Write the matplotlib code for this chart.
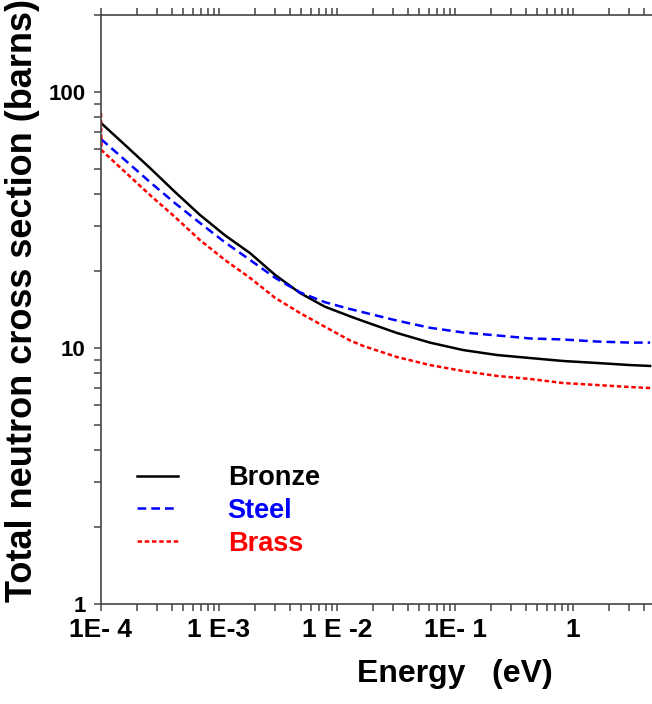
import matplotlib
matplotlib.use("Agg")
import matplotlib.pyplot as plt
from matplotlib.ticker import FixedLocator, FixedFormatter, LogLocator, NullFormatter

plt.rcParams["font.family"] = ["Liberation Sans", "DejaVu Sans"]

# values (energy in eV, cross section in barns)
ENERGY = [1e-4, 1.60e-4, 2.60e-4, 4.24e-4, 6.90e-4, 1.12e-3, 1.83e-3, 2.99e-3,
          4.86e-3, 7.91e-3, 1.29e-2, 1.66e-2, 3.22e-2, 6.13e-2, 0.117, 0.227,
          0.432, 0.822, 1.60, 3.04, 4.50]
S_BRONZE = [75.7, 62.1, 50.5, 40.7, 33.1, 27.6, 23.5, 19.3, 16.4, 14.5, 13.3,
            12.75, 11.45, 10.5, 9.82, 9.39, 9.14, 8.90, 8.74, 8.58, 8.51]
S_STEEL = [65.5, 54.2, 44.5, 36.8, 30.8, 25.9, 22.1, 18.8, 16.5, 15.1, 14.2,
           13.8, 12.8, 12.0, 11.5, 11.2, 10.9, 10.8, 10.6, 10.5, 10.5]
S_BRASS = [59.3, 48.7, 39.6, 32.5, 26.4, 22.1, 18.8, 15.7, 13.7, 12.1, 10.7,
           10.2, 9.22, 8.58, 8.13, 7.78, 7.57, 7.30, 7.17, 7.04, 6.98]
# brass trace starts with a short vertical jump at the left edge
E_BRASS_START = [1e-4, 1.01e-4]
S_BRASS_START = [82.8, 59.3]

XTICKS = [1e-4, 1e-3, 1e-2, 1e-1, 1.0]
XTICKLABELS = ["1E- 4", "1 E-3", "1 E -2", "1E- 1", "1"]
YTICKS = [1, 10, 100]
YTICKLABELS = ["1", "10", "100"]

fig = plt.figure(figsize=(6.52, 7.04), dpi=100)
ax = fig.add_axes([101 / 652, 1 - 604 / 704, 1 - 101 / 652, (604 - 15) / 704])

ax.plot(ENERGY, S_BRONZE, color="black", lw=1.8, label="Bronze")
ax.plot(ENERGY, S_STEEL, color="#0000FF", lw=1.8, dashes=(3.5, 2.0), label="Steel")
ax.plot(E_BRASS_START + ENERGY[1:], S_BRASS_START + S_BRASS[1:], color="#FF0000",
        lw=1.8, dashes=(1.8, 1.1), label="Brass")

ax.set_xscale("log")
ax.set_yscale("log")
ax.set_xlim(1e-4, 4.67)
ax.set_ylim(1, 200)

ax.xaxis.set_major_locator(FixedLocator(XTICKS))
ax.xaxis.set_major_formatter(FixedFormatter(XTICKLABELS))
ax.xaxis.set_minor_locator(LogLocator(base=10, subs=range(2, 10), numticks=50))
ax.xaxis.set_minor_formatter(NullFormatter())
ax.yaxis.set_major_locator(FixedLocator(YTICKS))
ax.yaxis.set_major_formatter(FixedFormatter(YTICKLABELS))
ax.yaxis.set_minor_locator(LogLocator(base=10, subs=range(2, 10), numticks=50))
ax.yaxis.set_minor_formatter(NullFormatter())

spine_col = "#444444"
ax.spines["right"].set_visible(False)
for s in ("left", "bottom", "top"):
    ax.spines[s].set_color(spine_col)
    ax.spines[s].set_linewidth(1.2)
ax.tick_params(which="both", direction="out", length=5, width=1.1, color=spine_col,
               top=True, right=False, labeltop=False)
ax.tick_params(axis="x", which="major", labelsize=19, pad=5)
ax.tick_params(axis="y", which="major", labelsize=16, pad=6)
for lab in ax.get_xticklabels() + ax.get_yticklabels():
    lab.set_fontweight("bold")

ax.set_xlabel("Energy   (eV)", fontsize=23, fontweight="bold")
ax.xaxis.set_label_coords((455 - 101) / 551, (604 - 659) / 589)
ax.set_ylabel("Total neutron cross section (barns)", fontsize=26, fontweight="bold")
ax.yaxis.set_label_coords((40 - 101) / 551, (604 - 300) / 589)

ax.legend(loc="upper left", bbox_to_anchor=((137 - 101) / 551, (604 - 465) / 589),
          frameon=False, prop={"weight": "bold", "size": 19.5}, labelcolor="linecolor",
          handlelength=1.5, handletextpad=1.85, labelspacing=0.25,
          borderpad=0, borderaxespad=0)

fig.savefig("out.png", dpi=100)
